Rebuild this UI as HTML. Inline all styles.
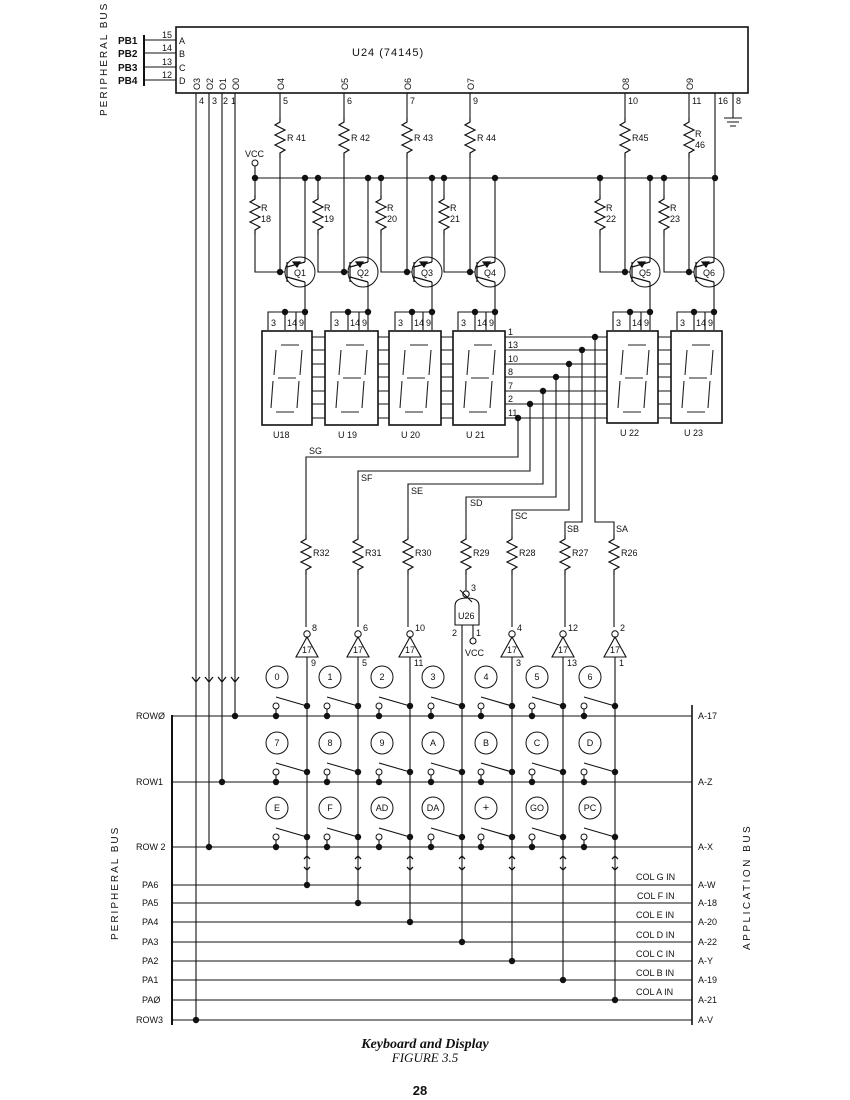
<!DOCTYPE html>
<html><head><meta charset="utf-8"><style>
html,body{margin:0;padding:0;background:#fff}
svg{display:block}
text{font-family:"Liberation Sans",sans-serif;fill:#111}
.s{font-size:9px}.m{font-size:10px}
</style></head><body>
<svg width="850" height="1100" viewBox="0 0 850 1100" xmlns="http://www.w3.org/2000/svg">
<defs>
<path id="rz" d="M0,0 l0,4 l-5,3 l10,5 l-10,5 l10,5 l-10,5 l10,5 l-5,3 l0,5" fill="none" stroke="#111" stroke-width="1.2"/>
<g id="dg" stroke="#222" stroke-width="1.1" fill="none">
<path d="M19,14 L37,14 M14,19 L12,44 M40,19 L38,44 M16,47 L34,47 M11,50 L9,77 M37,50 L35,77 M14,81 L32,81"/>
</g>
<g id="sw">
<circle cx="-31" cy="-10" r="3" fill="#fff" stroke="#111" stroke-width="1"/>
<path d="M-31,-7 L-31,0 M-31,-19 L0,-10" stroke="#111" stroke-width="1.1"/>
<circle cx="-31" cy="0" r="3.2" fill="#111"/><circle cx="0" cy="-10" r="3.2" fill="#111"/>
</g>
<g id="inv">
<circle cx="0" cy="-4" r="3.2" fill="#fff" stroke="#111"/>
<path d="M0,-1 L-11,19 L11,19 Z" fill="#fff" stroke="#111" stroke-width="1.1"/>
<text x="-5" y="15" class="s">17</text>
</g>
<g id="ar"><path d="M-4,-5 L0,0 L4,-5" fill="none" stroke="#111" stroke-width="1.3"/></g>
<g id="ud"><path d="M-3,-4 L0,-7 L3,-4 M-3,4 L0,7 L3,4" fill="none" stroke="#111" stroke-width="1.3"/></g>
</defs>
<g stroke="#111" stroke-width="1.1" fill="none">
<rect x="176" y="27" width="572" height="66" stroke-width="1.6"/>
<path d="M144,35 V86" stroke-width="2"/>
<path d="M144,40 H176 M144,53 H176 M144,67 H176 M144,80 H176"/>
<path d="M196,93 V1020 M209,93 V847 M222,93 V782 M235,93 V716"/>
<path d="M280,93 V118 M344,93 V118 M407,93 V118 M470,93 V118 M625,93 V118 M689,93 V118 M715,93 V178 M733,93 V118"/>
<path d="M724,118 H742 M727,122 H739 M730,126 H736"/>
<path d="M280,158 V272 M344,158 V272 M407,158 V272 M470,158 V272 M625,158 V272 M689,158 V272"/>
<path d="M255,178 H715 M255,166 V178"/>
<path d="M255,178 V195 M318,178 V195 M381,178 V195 M444,178 V195 M600,178 V195 M664,178 V195"/>
<path d="M255,235 V272 H285 M318,235 V272 H349 M381,235 V272 H412 M444,235 V272 H475 M600,235 V272 H630 M664,235 V272 H694"/>
<path d="M305,178 V262 M368,178 V262 M432,178 V262 M495,178 V262 M650,178 V262 M714,178 V262"/>
<path d="M305,282 V312 M368,282 V312 M432,282 V312 M495,282 V312 M650,282 V312 M714,282 V312"/>
<path d="M505,337 H607 M505,350 H607 M505,364 H607 M505,377 H607 M505,391 H607 M505,404 H607 M505,418 H607"/>
<path d="M312,337 H325 M312,350 H325 M312,364 H325 M312,377 H325 M312,391 H325 M312,404 H325 M312,418 H325"/>
<path d="M378,337 H389 M378,350 H389 M378,364 H389 M378,377 H389 M378,391 H389 M378,404 H389 M378,418 H389"/>
<path d="M441,337 H453 M441,350 H453 M441,364 H453 M441,377 H453 M441,391 H453 M441,404 H453 M441,418 H453"/>
<path d="M658,337 H671 M658,350 H671 M658,364 H671 M658,377 H671 M658,391 H671 M658,404 H671 M658,418 H671"/>
<path d="M518,418 V457 H306 V535 M530,404 V471 H358 V535 M543,391 V484 H408 V535 M556,377 V497 H466 V535 M569,364 V510 H512 V535 M582,350 V522 H565 V535 M595,337 V522 H614 V535"/>
<path d="M306,575 V627 M358,575 V627 M408,575 V627 M466,575 V590 M512,575 V627 M565,575 V627 M614,575 V627"/>
<path d="M455,625 V606 Q455,598 467,598 Q479,598 479,606 V625 Z"/>
<path d="M462,625 V942 M473,625 V638"/>
<circle cx="473" cy="641" r="3" fill="#fff"/><circle cx="466" cy="594" r="3.2" fill="#fff"/>
<path d="M460,590 L472,602"/>
<path d="M307,655 V885 M358,655 V903 M410,655 V922 M512,655 V961 M563,655 V980 M615,655 V1000"/>
<path d="M172,715 V1025" stroke-width="2"/>
<path d="M692,705 V1025" stroke-width="1.6"/>
<path d="M172,716 H692 M172,782 H692 M172,847 H692 M172,885 H692 M172,903 H692 M172,922 H692 M172,942 H692 M172,961 H692 M172,980 H692 M172,1000 H692 M172,1020 H692"/>
<g stroke-width="1">
<circle cx="277" cy="677" r="11"/><circle cx="330" cy="677" r="11"/><circle cx="382" cy="677" r="11"/><circle cx="433" cy="677" r="11"/><circle cx="486" cy="677" r="11"/><circle cx="537" cy="677" r="11"/><circle cx="590" cy="677" r="11"/>
<circle cx="277" cy="743" r="11"/><circle cx="330" cy="743" r="11"/><circle cx="382" cy="743" r="11"/><circle cx="433" cy="743" r="11"/><circle cx="486" cy="743" r="11"/><circle cx="537" cy="743" r="11"/><circle cx="590" cy="743" r="11"/>
<circle cx="277" cy="808" r="11"/><circle cx="330" cy="808" r="11"/><circle cx="382" cy="808" r="11"/><circle cx="433" cy="808" r="11"/><circle cx="486" cy="808" r="11"/><circle cx="537" cy="808" r="11"/><circle cx="590" cy="808" r="11"/>
</g>
<g stroke-width="1">
<circle cx="300" cy="272" r="15"/><circle cx="363" cy="272" r="15"/><circle cx="427" cy="272" r="15"/><circle cx="490" cy="272" r="15"/><circle cx="645" cy="272" r="15"/><circle cx="709" cy="272" r="15"/>
</g>
<g stroke-width="1.6">
<rect x="262" y="331" width="50" height="94"/><rect x="325" y="331" width="53" height="94"/><rect x="389" y="331" width="52" height="94"/><rect x="453" y="331" width="52" height="94"/><rect x="607" y="331" width="51" height="92"/><rect x="671" y="331" width="51" height="92"/>
</g>
<path d="M268,330 V312 H305 V330 M285,312 V330 M296,312 V330"/>
<path d="M331,330 V312 H368 V330 M348,312 V330 M359,312 V330"/>
<path d="M395,330 V312 H432 V330 M412,312 V330 M423,312 V330"/>
<path d="M458,330 V312 H495 V330 M475,312 V330 M486,312 V330"/>
<path d="M613,330 V312 H650 V330 M630,312 V330 M641,312 V330"/>
<path d="M677,330 V312 H714 V330 M694,312 V330 M705,312 V330"/>
</g>
<g stroke="#111" stroke-width="1.2" fill="#111">
<path d="M287,262 V282 M287,267 L305,262 M287,277 L305,282" fill="none"/><path d="M293,262 L300,262 L297,267Z"/>
<path d="M350,262 V282 M350,267 L368,262 M350,277 L368,282" fill="none"/><path d="M356,262 L363,262 L360,267Z"/>
<path d="M414,262 V282 M414,267 L432,262 M414,277 L432,282" fill="none"/><path d="M420,262 L427,262 L424,267Z"/>
<path d="M477,262 V282 M477,267 L495,262 M477,277 L495,282" fill="none"/><path d="M483,262 L490,262 L487,267Z"/>
<path d="M632,262 V282 M632,267 L650,262 M632,277 L650,282" fill="none"/><path d="M638,262 L645,262 L642,267Z"/>
<path d="M696,262 V282 M696,267 L714,262 M696,277 L714,282" fill="none"/><path d="M702,262 L709,262 L706,267Z"/>
</g>
<use href="#rz" x="280" y="118"/><use href="#rz" x="344" y="118"/><use href="#rz" x="407" y="118"/><use href="#rz" x="470" y="118"/><use href="#rz" x="625" y="118"/><use href="#rz" x="689" y="118"/>
<use href="#rz" x="255" y="195"/><use href="#rz" x="318" y="195"/><use href="#rz" x="381" y="195"/><use href="#rz" x="444" y="195"/><use href="#rz" x="600" y="195"/><use href="#rz" x="664" y="195"/>
<use href="#rz" x="306" y="535"/><use href="#rz" x="358" y="535"/><use href="#rz" x="408" y="535"/><use href="#rz" x="466" y="535"/><use href="#rz" x="512" y="535"/><use href="#rz" x="565" y="535"/><use href="#rz" x="614" y="535"/>
<use href="#dg" x="262" y="331"/><use href="#dg" x="327" y="331"/><use href="#dg" x="391" y="331"/><use href="#dg" x="455" y="331"/><use href="#dg" x="609" y="331"/><use href="#dg" x="673" y="331"/>
<use href="#inv" x="307" y="638"/><use href="#inv" x="358" y="638"/><use href="#inv" x="410" y="638"/><use href="#inv" x="512" y="638"/><use href="#inv" x="563" y="638"/><use href="#inv" x="615" y="638"/>
<g>
<use href="#sw" x="307" y="716"/><use href="#sw" x="358" y="716"/><use href="#sw" x="410" y="716"/><use href="#sw" x="462" y="716"/><use href="#sw" x="512" y="716"/><use href="#sw" x="563" y="716"/><use href="#sw" x="615" y="716"/>
<use href="#sw" x="307" y="782"/><use href="#sw" x="358" y="782"/><use href="#sw" x="410" y="782"/><use href="#sw" x="462" y="782"/><use href="#sw" x="512" y="782"/><use href="#sw" x="563" y="782"/><use href="#sw" x="615" y="782"/>
<use href="#sw" x="307" y="847"/><use href="#sw" x="358" y="847"/><use href="#sw" x="410" y="847"/><use href="#sw" x="462" y="847"/><use href="#sw" x="512" y="847"/><use href="#sw" x="563" y="847"/><use href="#sw" x="615" y="847"/>
</g>
<use href="#ar" x="196" y="682"/><use href="#ar" x="209" y="682"/><use href="#ar" x="222" y="682"/><use href="#ar" x="235" y="682"/>
<use href="#ud" x="307" y="863"/><use href="#ud" x="358" y="863"/><use href="#ud" x="410" y="863"/><use href="#ud" x="462" y="863"/><use href="#ud" x="512" y="863"/><use href="#ud" x="563" y="863"/><use href="#ud" x="615" y="863"/>
<g fill="#111">
<circle cx="235" cy="716" r="3.2"/><circle cx="222" cy="782" r="3.2"/><circle cx="209" cy="847" r="3.2"/><circle cx="196" cy="1020" r="3.2"/>
<circle cx="307" cy="885" r="3.2"/><circle cx="358" cy="903" r="3.2"/><circle cx="410" cy="922" r="3.2"/><circle cx="462" cy="942" r="3.2"/><circle cx="512" cy="961" r="3.2"/><circle cx="563" cy="980" r="3.2"/><circle cx="615" cy="1000" r="3.2"/>
<circle cx="255" cy="178" r="3.2"/><circle cx="305" cy="178" r="3.2"/><circle cx="318" cy="178" r="3.2"/><circle cx="368" cy="178" r="3.2"/><circle cx="381" cy="178" r="3.2"/><circle cx="432" cy="178" r="3.2"/><circle cx="444" cy="178" r="3.2"/><circle cx="495" cy="178" r="3.2"/><circle cx="600" cy="178" r="3.2"/><circle cx="650" cy="178" r="3.2"/><circle cx="664" cy="178" r="3.2"/><circle cx="715" cy="178" r="3.2"/>
<circle cx="280" cy="272" r="3.2"/><circle cx="344" cy="272" r="3.2"/><circle cx="407" cy="272" r="3.2"/><circle cx="470" cy="272" r="3.2"/><circle cx="625" cy="272" r="3.2"/><circle cx="689" cy="272" r="3.2"/>
<circle cx="305" cy="312" r="3.2"/><circle cx="285" cy="312" r="3.2"/><circle cx="368" cy="312" r="3.2"/><circle cx="348" cy="312" r="3.2"/><circle cx="432" cy="312" r="3.2"/><circle cx="412" cy="312" r="3.2"/><circle cx="495" cy="312" r="3.2"/><circle cx="475" cy="312" r="3.2"/><circle cx="650" cy="312" r="3.2"/><circle cx="630" cy="312" r="3.2"/><circle cx="714" cy="312" r="3.2"/><circle cx="694" cy="312" r="3.2"/>
<circle cx="518" cy="418" r="3.2"/><circle cx="530" cy="404" r="3.2"/><circle cx="543" cy="391" r="3.2"/><circle cx="556" cy="377" r="3.2"/><circle cx="569" cy="364" r="3.2"/><circle cx="582" cy="350" r="3.2"/><circle cx="595" cy="337" r="3.2"/>
</g>
<circle cx="255" cy="163" r="3" fill="#fff" stroke="#111"/>
<text x="0" y="0" class="m" transform="translate(107,116) rotate(-90)" letter-spacing="2">PERIPHERAL  BUS</text>
<text x="0" y="0" class="m" transform="translate(118,940) rotate(-90)" letter-spacing="2">PERIPHERAL  BUS</text>
<text x="0" y="0" class="m" transform="translate(750,950) rotate(-90)" letter-spacing="2.5">APPLICATION    BUS</text>
<g class="m" font-weight="bold">
<text x="118" y="44">PB1</text><text x="118" y="57">PB2</text><text x="118" y="71">PB3</text><text x="118" y="84">PB4</text>
</g>
<g class="s">
<text x="162" y="38">15</text><text x="162" y="51">14</text><text x="162" y="65">13</text><text x="162" y="78">12</text>
<text x="179" y="44">A</text><text x="179" y="57">B</text><text x="179" y="71">C</text><text x="179" y="84">D</text>
<text x="199" y="104">4</text><text x="212" y="104">3</text><text x="223" y="104">2</text><text x="231" y="104">1</text>
<text x="283" y="104">5</text><text x="347" y="104">6</text><text x="410" y="104">7</text><text x="473" y="104">9</text><text x="628" y="104">10</text><text x="692" y="104">11</text><text x="718" y="104">16</text><text x="736" y="104">8</text>
</g>
<g class="s">
<text transform="translate(200,90) rotate(-90)">O3</text><text transform="translate(213,90) rotate(-90)">O2</text><text transform="translate(226,90) rotate(-90)">O1</text><text transform="translate(239,90) rotate(-90)">O0</text>
<text transform="translate(284,90) rotate(-90)">O4</text><text transform="translate(348,90) rotate(-90)">O5</text><text transform="translate(411,90) rotate(-90)">O6</text><text transform="translate(474,90) rotate(-90)">O7</text><text transform="translate(629,90) rotate(-90)">O8</text><text transform="translate(693,90) rotate(-90)">O9</text>
</g>
<text x="352" y="56" font-size="11" letter-spacing="1">U24   (74145)</text>
<g class="s">
<text x="287" y="141">R 41</text><text x="351" y="141">R 42</text><text x="414" y="141">R 43</text><text x="477" y="141">R 44</text><text x="632" y="141">R45</text><text x="695" y="137">R</text><text x="695" y="148">46</text>
<text x="245" y="157">VCC</text>
<text x="261" y="211">R</text><text x="261" y="222">18</text><text x="324" y="211">R</text><text x="324" y="222">19</text><text x="387" y="211">R</text><text x="387" y="222">20</text><text x="450" y="211">R</text><text x="450" y="222">21</text><text x="606" y="211">R</text><text x="606" y="222">22</text><text x="670" y="211">R</text><text x="670" y="222">23</text>
<text x="294" y="276">Q1</text><text x="357" y="276">Q2</text><text x="421" y="276">Q3</text><text x="484" y="276">Q4</text><text x="639" y="276">Q5</text><text x="703" y="276">Q6</text>
<text x="271" y="326">3</text><text x="287" y="326">14</text><text x="299" y="326">9</text>
<text x="334" y="326">3</text><text x="350" y="326">14</text><text x="362" y="326">9</text>
<text x="398" y="326">3</text><text x="414" y="326">14</text><text x="426" y="326">9</text>
<text x="461" y="326">3</text><text x="477" y="326">14</text><text x="489" y="326">9</text>
<text x="616" y="326">3</text><text x="632" y="326">14</text><text x="644" y="326">9</text>
<text x="680" y="326">3</text><text x="696" y="326">14</text><text x="708" y="326">9</text>
<text x="508" y="335">1</text><text x="508" y="348">13</text><text x="508" y="362">10</text><text x="508" y="375">8</text><text x="508" y="389">7</text><text x="508" y="402">2</text><text x="508" y="416">11</text>
<text x="273" y="438">U18</text><text x="338" y="438">U 19</text><text x="401" y="438">U 20</text><text x="466" y="438">U 21</text><text x="620" y="436">U 22</text><text x="684" y="436">U 23</text>
<text x="309" y="454">SG</text><text x="361" y="481">SF</text><text x="411" y="494">SE</text><text x="470" y="506">SD</text><text x="515" y="519">SC</text><text x="567" y="532">SB</text><text x="616" y="532">SA</text>
<text x="313" y="556">R32</text><text x="365" y="556">R31</text><text x="415" y="556">R30</text><text x="473" y="556">R29</text><text x="519" y="556">R28</text><text x="572" y="556">R27</text><text x="621" y="556">R26</text>
<text x="471" y="591">3</text><text x="458" y="619">U26</text><text x="452" y="636">2</text><text x="476" y="636">1</text><text x="465" y="656">VCC</text>
<text x="312" y="631">8</text><text x="363" y="631">6</text><text x="415" y="631">10</text><text x="517" y="631">4</text><text x="568" y="631">12</text><text x="620" y="631">2</text>
<text x="311" y="666">9</text><text x="362" y="666">5</text><text x="414" y="666">11</text><text x="516" y="666">3</text><text x="567" y="666">13</text><text x="619" y="666">1</text>
</g>
<g class="s" text-anchor="middle">
<text x="277" y="680">0</text><text x="330" y="680">1</text><text x="382" y="680">2</text><text x="433" y="680">3</text><text x="486" y="680">4</text><text x="537" y="680">5</text><text x="590" y="680">6</text>
<text x="277" y="746">7</text><text x="330" y="746">8</text><text x="382" y="746">9</text><text x="433" y="746">A</text><text x="486" y="746">B</text><text x="537" y="746">C</text><text x="590" y="746">D</text>
<text x="277" y="811">E</text><text x="330" y="811">F</text><text x="382" y="811">AD</text><text x="433" y="811">DA</text><text x="486" y="811" font-size="11">+</text><text x="537" y="811">GO</text><text x="590" y="811">PC</text>
</g>
<g class="s">
<text x="136" y="719">ROWØ</text><text x="136" y="785">ROW1</text><text x="136" y="850">ROW 2</text>
<text x="142" y="888">PA6</text><text x="142" y="906">PA5</text><text x="142" y="925">PA4</text><text x="142" y="945">PA3</text><text x="142" y="964">PA2</text><text x="142" y="983">PA1</text><text x="142" y="1003">PAØ</text><text x="136" y="1023">ROW3</text>
<text x="698" y="719">A-17</text><text x="698" y="785">A-Z</text><text x="698" y="850">A-X</text>
<text x="698" y="888">A-W</text><text x="698" y="906">A-18</text><text x="698" y="925">A-20</text><text x="698" y="945">A-22</text><text x="698" y="964">A-Y</text><text x="698" y="983">A-19</text><text x="698" y="1003">A-21</text><text x="698" y="1023">A-V</text>
<text x="636" y="880">COL  G  IN</text><text x="637" y="899">COL  F  IN</text><text x="636" y="918">COL  E  IN</text><text x="636" y="938">COL  D  IN</text><text x="636" y="957">COL  C  IN</text><text x="636" y="976">COL  B  IN</text><text x="636" y="995">COL  A  IN</text>
</g>
<text x="425" y="1048" text-anchor="middle" font-style="italic" font-weight="bold" font-size="14" style="font-family:'Liberation Serif',serif">Keyboard and Display</text>
<text x="425" y="1062" text-anchor="middle" font-style="italic" font-size="13" style="font-family:'Liberation Serif',serif">FIGURE 3.5</text>
<text x="420" y="1095" text-anchor="middle" font-weight="bold" font-size="13">28</text>
</svg>
</body></html>
